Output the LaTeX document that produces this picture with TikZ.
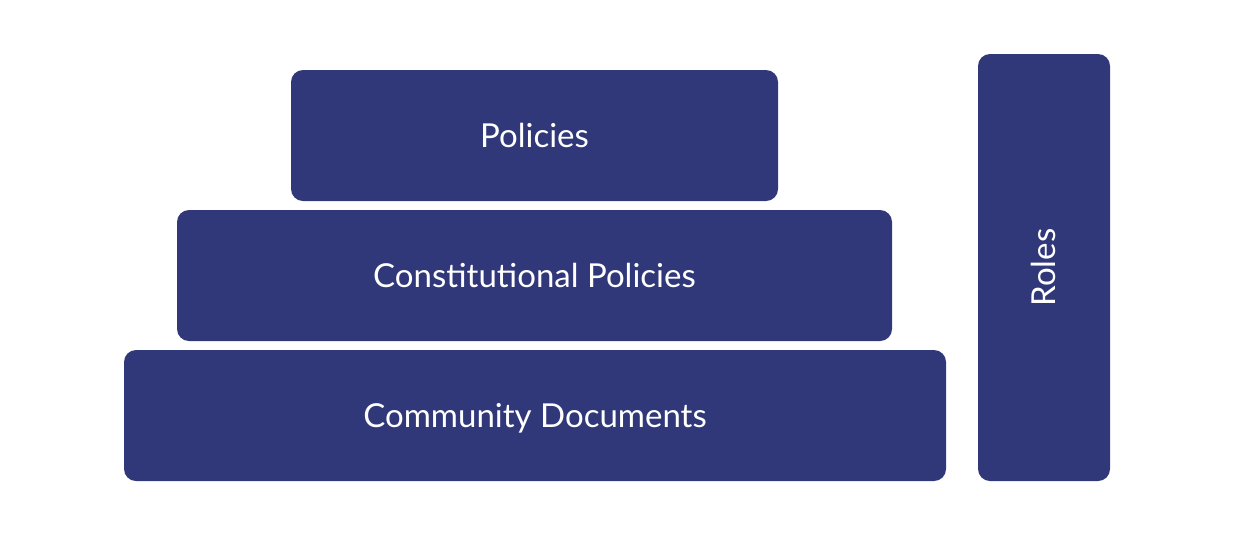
\documentclass[tikz,border=0pt]{standalone}
\usepackage{fontspec}
\setmainfont{Lato}
\definecolor{layerblue}{HTML}{30387A}

\begin{document}
\begin{tikzpicture}[x=0.5pt,y=-0.5pt,
  layer/.style={rectangle,rounded corners=6pt,fill=layerblue,text=white,
    inner sep=0pt,minimum height=65.5pt,text height=14pt,text depth=2.5pt,
    font=\fontsize{16.5}{19}\selectfont}]
  \useasboundingbox (0,0) rectangle (1234,536);
  \node[layer,minimum width=243.5pt] (pol) at (534.5,135.5) {Policies};
  \node[layer,minimum width=357.5pt] (con) at (534.5,275.5) {Constitutional Policies};
  \node[layer,minimum width=411pt] (com) at (535,415.5) {Community Documents};
  \node[layer,rotate=90,minimum width=213.5pt,minimum height=66pt] (rol) at (1044,267.5) {Roles};
\end{tikzpicture}
\end{document}
